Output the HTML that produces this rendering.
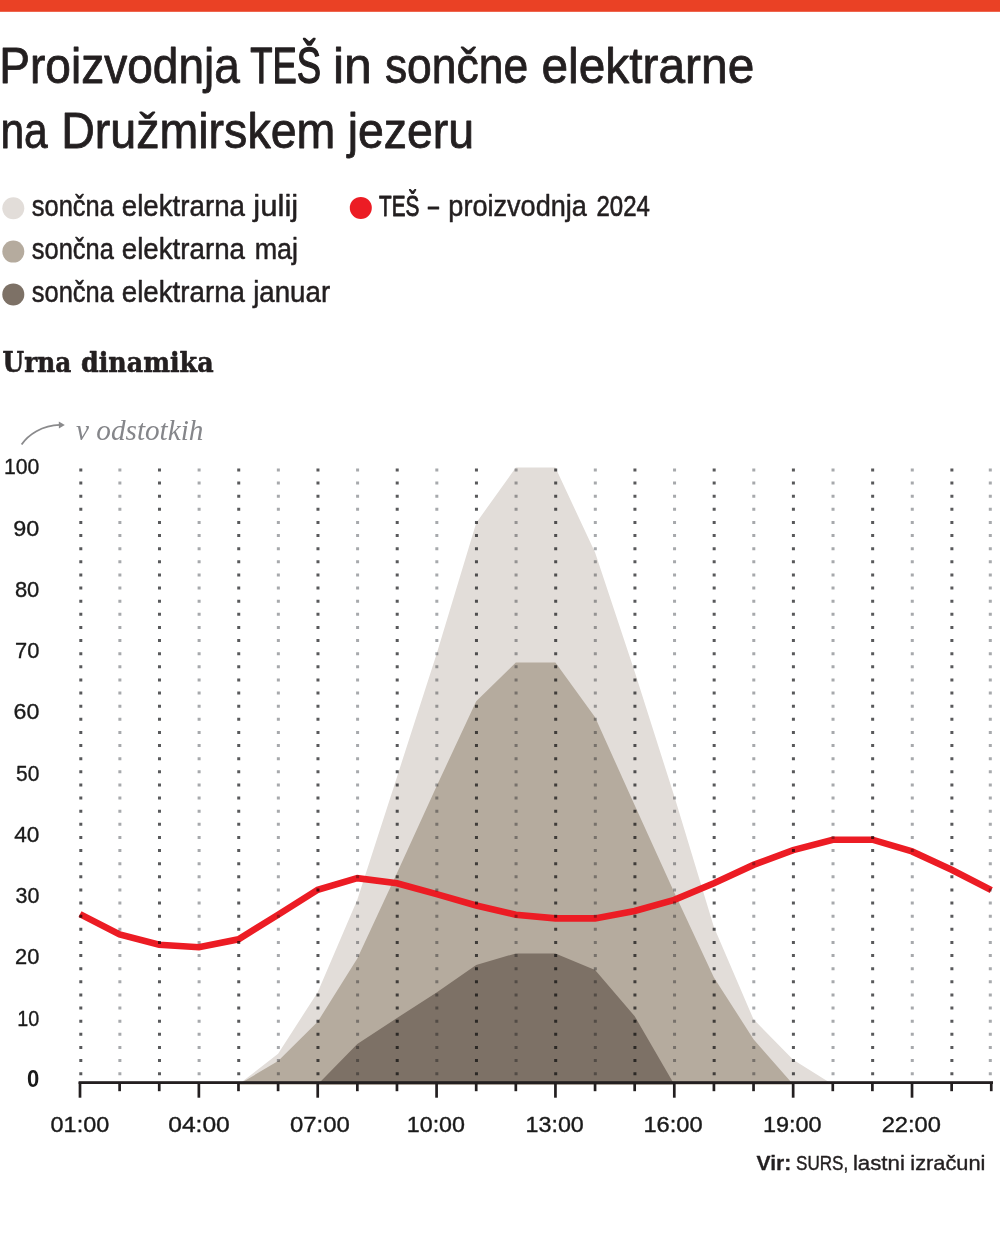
<!DOCTYPE html>
<html lang="sl">
<head>
<meta charset="utf-8">
<title>Proizvodnja TEŠ in sončne elektrarne na Družmirskem jezeru</title>
<style>
html,body{margin:0;padding:0;background:#fff;}
body{width:1000px;height:1236px;overflow:hidden;}
svg{display:block;}
text{font-family:"Liberation Sans",sans-serif;}
.serif{font-family:"Liberation Serif",serif;}
.dserif{font-family:"DejaVu Serif","Liberation Serif",serif;}
</style>
</head>
<body>
<svg width="1000" height="1236" viewBox="0 0 1000 1236">
<rect x="0" y="0" width="1000" height="1236" fill="#ffffff"/>
<rect x="0" y="0" width="1000" height="11.8" fill="#ea4125"/>
<circle cx="13.3" cy="208.2" r="11" fill="#e2ddd9"/>
<circle cx="13.3" cy="251.6" r="11" fill="#b5ab9e"/>
<circle cx="13.3" cy="294.4" r="11" fill="#7d7166"/>
<circle cx="360.8" cy="207.9" r="11" fill="#ec1c24"/>
<path d="M21.6,444.6 C28,435 42,425.2 60,424.9" fill="none" stroke="#8a8a8c" stroke-width="1.8"/>
<path d="M58.8,421.4 L64.8,425 L58.9,428.4 Z" fill="#8a8a8c"/>
<polygon points="238.5,1084.5 278.1,1053.7 317.7,992.2 357.3,899.7 397.0,776.9 436.6,653.9 476.2,522.9 515.8,467.6 555.4,467.6 595.1,552.5 634.7,671.8 674.3,796.3 713.9,927.0 753.5,1019.3 793.2,1059.8 832.8,1084.5" fill="#e2ddd9"/>
<polygon points="238.5,1084.5 278.1,1061.1 317.7,1021.7 357.3,958.5 397.0,872.9 436.6,786.2 476.2,701.3 515.8,662.6 555.4,662.6 595.1,717.3 634.7,805.2 674.3,892.6 713.9,977.4 753.5,1039.2 793.2,1084.5" fill="#b5ab9e"/>
<polygon points="317.7,1084.5 357.3,1043.9 397.0,1018.0 436.6,992.5 476.2,965.1 515.8,953.4 555.4,953.4 595.1,970.1 634.7,1016.2 674.3,1084.5" fill="#7d7166"/>
<polyline points="80.0,914.1 119.6,934.4 159.2,944.8 198.9,947.3 238.5,939.3 278.1,914.7 317.7,889.8 357.3,878.2 397.0,883.2 436.6,894.1 476.2,905.5 515.8,914.7 555.4,918.4 595.1,918.4 634.7,911.0 674.3,899.9 713.9,883.3 753.5,864.9 793.2,850.1 832.8,839.7 872.4,839.7 912.0,851.4 951.6,869.8 991.3,890.1" fill="none" stroke="#ec1c24" stroke-width="6.6" stroke-linejoin="miter"/>
<g style="mix-blend-mode:multiply">
<line x1="80.80" y1="468.4" x2="80.80" y2="1076" stroke="#58595b" stroke-width="3" stroke-dasharray="3 10.126"/>
<line x1="119.87" y1="468.4" x2="119.87" y2="1076" stroke="#a7a9ac" stroke-width="3" stroke-dasharray="3 10.126"/>
<line x1="159.49" y1="468.4" x2="159.49" y2="1076" stroke="#58595b" stroke-width="3" stroke-dasharray="3 10.126"/>
<line x1="199.11" y1="468.4" x2="199.11" y2="1076" stroke="#a7a9ac" stroke-width="3" stroke-dasharray="3 10.126"/>
<line x1="238.73" y1="468.4" x2="238.73" y2="1076" stroke="#58595b" stroke-width="3" stroke-dasharray="3 10.126"/>
<line x1="278.35" y1="468.4" x2="278.35" y2="1076" stroke="#a7a9ac" stroke-width="3" stroke-dasharray="3 10.126"/>
<line x1="317.97" y1="468.4" x2="317.97" y2="1076" stroke="#58595b" stroke-width="3" stroke-dasharray="3 10.126"/>
<line x1="357.59" y1="468.4" x2="357.59" y2="1076" stroke="#a7a9ac" stroke-width="3" stroke-dasharray="3 10.126"/>
<line x1="397.21" y1="468.4" x2="397.21" y2="1076" stroke="#58595b" stroke-width="3" stroke-dasharray="3 10.126"/>
<line x1="436.83" y1="468.4" x2="436.83" y2="1076" stroke="#a7a9ac" stroke-width="3" stroke-dasharray="3 10.126"/>
<line x1="476.45" y1="468.4" x2="476.45" y2="1076" stroke="#58595b" stroke-width="3" stroke-dasharray="3 10.126"/>
<line x1="516.07" y1="468.4" x2="516.07" y2="1076" stroke="#a7a9ac" stroke-width="3" stroke-dasharray="3 10.126"/>
<line x1="555.69" y1="468.4" x2="555.69" y2="1076" stroke="#58595b" stroke-width="3" stroke-dasharray="3 10.126"/>
<line x1="595.31" y1="468.4" x2="595.31" y2="1076" stroke="#a7a9ac" stroke-width="3" stroke-dasharray="3 10.126"/>
<line x1="634.93" y1="468.4" x2="634.93" y2="1076" stroke="#58595b" stroke-width="3" stroke-dasharray="3 10.126"/>
<line x1="674.55" y1="468.4" x2="674.55" y2="1076" stroke="#a7a9ac" stroke-width="3" stroke-dasharray="3 10.126"/>
<line x1="714.17" y1="468.4" x2="714.17" y2="1076" stroke="#58595b" stroke-width="3" stroke-dasharray="3 10.126"/>
<line x1="753.79" y1="468.4" x2="753.79" y2="1076" stroke="#a7a9ac" stroke-width="3" stroke-dasharray="3 10.126"/>
<line x1="793.41" y1="468.4" x2="793.41" y2="1076" stroke="#58595b" stroke-width="3" stroke-dasharray="3 10.126"/>
<line x1="833.03" y1="468.4" x2="833.03" y2="1076" stroke="#a7a9ac" stroke-width="3" stroke-dasharray="3 10.126"/>
<line x1="872.65" y1="468.4" x2="872.65" y2="1076" stroke="#58595b" stroke-width="3" stroke-dasharray="3 10.126"/>
<line x1="912.27" y1="468.4" x2="912.27" y2="1076" stroke="#a7a9ac" stroke-width="3" stroke-dasharray="3 10.126"/>
<line x1="951.89" y1="468.4" x2="951.89" y2="1076" stroke="#58595b" stroke-width="3" stroke-dasharray="3 10.126"/>
<line x1="990.30" y1="468.4" x2="990.30" y2="1076" stroke="#a7a9ac" stroke-width="3" stroke-dasharray="3 10.126"/>
</g>
<rect x="78.6" y="1081.2" width="914.4" height="2.8" fill="#231f20"/>
<rect x="78.65" y="1082" width="2.7" height="15.7" fill="#231f20"/>
<rect x="118.27" y="1082" width="2.7" height="9.2" fill="#231f20"/>
<rect x="157.89" y="1082" width="2.7" height="9.2" fill="#231f20"/>
<rect x="197.51" y="1082" width="2.7" height="15.7" fill="#231f20"/>
<rect x="237.13" y="1082" width="2.7" height="9.2" fill="#231f20"/>
<rect x="276.75" y="1082" width="2.7" height="9.2" fill="#231f20"/>
<rect x="316.37" y="1082" width="2.7" height="15.7" fill="#231f20"/>
<rect x="355.99" y="1082" width="2.7" height="9.2" fill="#231f20"/>
<rect x="395.61" y="1082" width="2.7" height="9.2" fill="#231f20"/>
<rect x="435.23" y="1082" width="2.7" height="15.7" fill="#231f20"/>
<rect x="474.85" y="1082" width="2.7" height="9.2" fill="#231f20"/>
<rect x="514.47" y="1082" width="2.7" height="9.2" fill="#231f20"/>
<rect x="554.09" y="1082" width="2.7" height="15.7" fill="#231f20"/>
<rect x="593.71" y="1082" width="2.7" height="9.2" fill="#231f20"/>
<rect x="633.33" y="1082" width="2.7" height="9.2" fill="#231f20"/>
<rect x="672.95" y="1082" width="2.7" height="15.7" fill="#231f20"/>
<rect x="712.57" y="1082" width="2.7" height="9.2" fill="#231f20"/>
<rect x="752.19" y="1082" width="2.7" height="9.2" fill="#231f20"/>
<rect x="791.81" y="1082" width="2.7" height="15.7" fill="#231f20"/>
<rect x="831.43" y="1082" width="2.7" height="9.2" fill="#231f20"/>
<rect x="871.05" y="1082" width="2.7" height="9.2" fill="#231f20"/>
<rect x="910.67" y="1082" width="2.7" height="15.7" fill="#231f20"/>
<rect x="950.29" y="1082" width="2.7" height="9.2" fill="#231f20"/>
<rect x="989.91" y="1082" width="2.7" height="9.2" fill="#231f20"/>
<text transform="translate(-0.69,83) scale(0.9228,1)" font-size="49.9" fill="#231f20" stroke="#231f20" stroke-width="0.8" stroke-linejoin="round" vector-effect="non-scaling-stroke">Proizvodnja</text>
<text transform="translate(250.24,83) scale(0.7301,1)" font-size="49.9" fill="#231f20" stroke="#231f20" stroke-width="1.15" stroke-linejoin="round" vector-effect="non-scaling-stroke">TEŠ</text>
<text transform="translate(333.00,83) scale(1.0005,1)" font-size="49.9" fill="#231f20" stroke="#231f20" stroke-width="0.8" stroke-linejoin="round" vector-effect="non-scaling-stroke">in</text>
<text transform="translate(384.91,83) scale(0.8904,1)" font-size="49.9" fill="#231f20" stroke="#231f20" stroke-width="0.8" stroke-linejoin="round" vector-effect="non-scaling-stroke">sončne</text>
<text transform="translate(541.48,83) scale(0.9592,1)" font-size="49.9" fill="#231f20" stroke="#231f20" stroke-width="0.8" stroke-linejoin="round" vector-effect="non-scaling-stroke">elektrarne</text>
<text transform="translate(0.44,147.7) scale(0.8531,1)" font-size="49.9" fill="#231f20" stroke="#231f20" stroke-width="0.8" stroke-linejoin="round" vector-effect="non-scaling-stroke">na</text>
<text transform="translate(61.17,147.7) scale(0.9334,1)" font-size="49.9" fill="#231f20" stroke="#231f20" stroke-width="0.8" stroke-linejoin="round" vector-effect="non-scaling-stroke">Družmirskem</text>
<text transform="translate(347.66,147.7) scale(0.9309,1)" font-size="49.9" fill="#231f20" stroke="#231f20" stroke-width="0.8" stroke-linejoin="round" vector-effect="non-scaling-stroke">jezeru</text>
<text transform="translate(31.75,215.5) scale(0.8490,1)" font-size="30" fill="#231f20" stroke="#231f20" stroke-width="0.5" stroke-linejoin="round" vector-effect="non-scaling-stroke">sončna</text>
<text transform="translate(121.73,215.5) scale(0.9245,1)" font-size="30" fill="#231f20" stroke="#231f20" stroke-width="0.5" stroke-linejoin="round" vector-effect="non-scaling-stroke">elektrarna</text>
<text transform="translate(253.29,215.5) scale(1.0380,1)" font-size="30" fill="#231f20" stroke="#231f20" stroke-width="0.5" stroke-linejoin="round" vector-effect="non-scaling-stroke">julij</text>
<text transform="translate(31.75,258.8) scale(0.8490,1)" font-size="30" fill="#231f20" stroke="#231f20" stroke-width="0.5" stroke-linejoin="round" vector-effect="non-scaling-stroke">sončna</text>
<text transform="translate(121.73,258.8) scale(0.9245,1)" font-size="30" fill="#231f20" stroke="#231f20" stroke-width="0.5" stroke-linejoin="round" vector-effect="non-scaling-stroke">elektrarna</text>
<text transform="translate(254.65,258.8) scale(0.8976,1)" font-size="30" fill="#231f20" stroke="#231f20" stroke-width="0.5" stroke-linejoin="round" vector-effect="non-scaling-stroke">maj</text>
<text transform="translate(31.75,301.8) scale(0.8490,1)" font-size="30" fill="#231f20" stroke="#231f20" stroke-width="0.5" stroke-linejoin="round" vector-effect="non-scaling-stroke">sončna</text>
<text transform="translate(121.73,301.8) scale(0.9245,1)" font-size="30" fill="#231f20" stroke="#231f20" stroke-width="0.5" stroke-linejoin="round" vector-effect="non-scaling-stroke">elektrarna</text>
<text transform="translate(253.17,301.8) scale(0.9229,1)" font-size="30" fill="#231f20" stroke="#231f20" stroke-width="0.5" stroke-linejoin="round" vector-effect="non-scaling-stroke">januar</text>
<text transform="translate(379.00,215.5) scale(0.6907,1)" font-size="30" fill="#231f20" stroke="#231f20" stroke-width="0.8" stroke-linejoin="round" vector-effect="non-scaling-stroke">TEŠ</text>
<text transform="translate(428.00,215.5) scale(0.6529,1)" font-size="30" fill="#231f20" stroke="#231f20" stroke-width="0.8" stroke-linejoin="round" vector-effect="non-scaling-stroke">–</text>
<text transform="translate(448.35,215.5) scale(0.9035,1)" font-size="30" fill="#231f20" stroke="#231f20" stroke-width="0.5" stroke-linejoin="round" vector-effect="non-scaling-stroke">proizvodnja</text>
<text transform="translate(596.50,215.5) scale(0.8009,1)" font-size="30" fill="#231f20" stroke="#231f20" stroke-width="0.6" stroke-linejoin="round" vector-effect="non-scaling-stroke">2024</text>
<text transform="translate(2.60,372.3) scale(0.8778,1)" font-size="28.2" class="dserif" fill="#231f20" font-weight="bold" stroke="#231f20" stroke-width="0.6" stroke-linejoin="round" vector-effect="non-scaling-stroke">Urna</text>
<text transform="translate(81.00,372.3) scale(0.8992,1)" font-size="28.2" class="dserif" fill="#231f20" font-weight="bold" stroke="#231f20" stroke-width="0.6" stroke-linejoin="round" vector-effect="non-scaling-stroke">dinamika</text>
<text transform="translate(76.00,440) scale(1.0083,1)" font-size="29" class="serif" fill="#85868a" font-style="italic">v odstotkih</text>
<text transform="translate(17.30,1025.6) scale(0.8782,1)" font-size="22.5" fill="#1a1a1a" stroke="#1a1a1a" stroke-width="0.35" stroke-linejoin="round" vector-effect="non-scaling-stroke">10</text>
<text transform="translate(15.00,964.4) scale(0.9718,1)" font-size="22.5" fill="#1a1a1a" stroke="#1a1a1a" stroke-width="0.35" stroke-linejoin="round" vector-effect="non-scaling-stroke">20</text>
<text transform="translate(15.48,903.1) scale(0.9525,1)" font-size="22.5" fill="#1a1a1a" stroke="#1a1a1a" stroke-width="0.35" stroke-linejoin="round" vector-effect="non-scaling-stroke">30</text>
<text transform="translate(14.18,841.9) scale(1.0056,1)" font-size="22.5" fill="#1a1a1a" stroke="#1a1a1a" stroke-width="0.35" stroke-linejoin="round" vector-effect="non-scaling-stroke">40</text>
<text transform="translate(15.98,780.6) scale(0.9321,1)" font-size="22.5" fill="#1a1a1a" stroke="#1a1a1a" stroke-width="0.35" stroke-linejoin="round" vector-effect="non-scaling-stroke">50</text>
<text transform="translate(13.54,719.3) scale(1.0313,1)" font-size="22.5" fill="#1a1a1a" stroke="#1a1a1a" stroke-width="0.35" stroke-linejoin="round" vector-effect="non-scaling-stroke">60</text>
<text transform="translate(15.00,658.1) scale(0.9718,1)" font-size="22.5" fill="#1a1a1a" stroke="#1a1a1a" stroke-width="0.35" stroke-linejoin="round" vector-effect="non-scaling-stroke">70</text>
<text transform="translate(14.88,596.8) scale(0.9770,1)" font-size="22.5" fill="#1a1a1a" stroke="#1a1a1a" stroke-width="0.35" stroke-linejoin="round" vector-effect="non-scaling-stroke">80</text>
<text transform="translate(13.34,535.6) scale(1.0398,1)" font-size="22.5" fill="#1a1a1a" stroke="#1a1a1a" stroke-width="0.35" stroke-linejoin="round" vector-effect="non-scaling-stroke">90</text>
<text transform="translate(3.93,474.3) scale(0.9424,1)" font-size="22.5" fill="#1a1a1a" stroke="#1a1a1a" stroke-width="0.35" stroke-linejoin="round" vector-effect="non-scaling-stroke">100</text>
<text transform="translate(26.90,1086.8) scale(0.9385,1)" font-size="23.5" fill="#1a1a1a" font-weight="bold">0</text>
<text transform="translate(50.60,1131.7) scale(1.0506,1)" font-size="22.3" fill="#1a1a1a" stroke="#1a1a1a" stroke-width="0.4" stroke-linejoin="round" vector-effect="non-scaling-stroke">01:00</text>
<text transform="translate(168.20,1131.7) scale(1.1048,1)" font-size="22.3" fill="#1a1a1a" stroke="#1a1a1a" stroke-width="0.4" stroke-linejoin="round" vector-effect="non-scaling-stroke">04:00</text>
<text transform="translate(289.90,1131.7) scale(1.0723,1)" font-size="22.3" fill="#1a1a1a" stroke="#1a1a1a" stroke-width="0.4" stroke-linejoin="round" vector-effect="non-scaling-stroke">07:00</text>
<text transform="translate(406.76,1131.7) scale(1.0442,1)" font-size="22.3" fill="#1a1a1a" stroke="#1a1a1a" stroke-width="0.4" stroke-linejoin="round" vector-effect="non-scaling-stroke">10:00</text>
<text transform="translate(525.56,1131.7) scale(1.0442,1)" font-size="22.3" fill="#1a1a1a" stroke="#1a1a1a" stroke-width="0.4" stroke-linejoin="round" vector-effect="non-scaling-stroke">13:00</text>
<text transform="translate(643.44,1131.7) scale(1.0607,1)" font-size="22.3" fill="#1a1a1a" stroke="#1a1a1a" stroke-width="0.4" stroke-linejoin="round" vector-effect="non-scaling-stroke">16:00</text>
<text transform="translate(763.05,1131.7) scale(1.0497,1)" font-size="22.3" fill="#1a1a1a" stroke="#1a1a1a" stroke-width="0.4" stroke-linejoin="round" vector-effect="non-scaling-stroke">19:00</text>
<text transform="translate(881.64,1131.7) scale(1.0626,1)" font-size="22.3" fill="#1a1a1a" stroke="#1a1a1a" stroke-width="0.4" stroke-linejoin="round" vector-effect="non-scaling-stroke">22:00</text>
<text transform="translate(756.45,1169.6) scale(1.0289,1)" font-size="20.5" fill="#231f20" font-weight="bold" stroke="#231f20" stroke-width="0.3" stroke-linejoin="round" vector-effect="non-scaling-stroke">Vir:</text>
<text transform="translate(796.00,1169.6) scale(0.8334,1)" font-size="20.5" fill="#231f20" stroke="#231f20" stroke-width="0.4" stroke-linejoin="round" vector-effect="non-scaling-stroke">SURS,</text>
<text transform="translate(852.91,1169.6) scale(1.0863,1)" font-size="20.5" fill="#231f20" stroke="#231f20" stroke-width="0.4" stroke-linejoin="round" vector-effect="non-scaling-stroke">lastni</text>
<text transform="translate(910.34,1169.6) scale(1.0639,1)" font-size="20.5" fill="#231f20" stroke="#231f20" stroke-width="0.4" stroke-linejoin="round" vector-effect="non-scaling-stroke">izračuni</text>
</svg>
</body>
</html>
